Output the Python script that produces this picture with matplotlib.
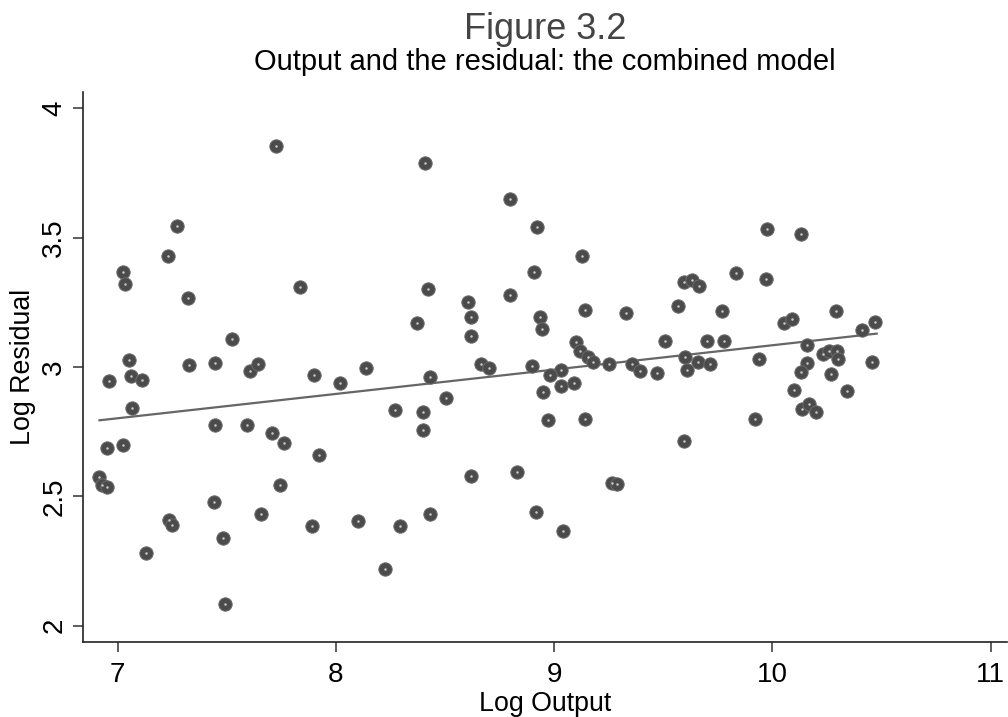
import matplotlib
matplotlib.use("Agg")
import matplotlib.pyplot as plt

plt.rcParams['font.family'] = ['Liberation Sans', 'DejaVu Sans']

# Log Output (x) and Log Residual (y)
log_output = [
    7.728, 7.272, 7.229, 7.023, 7.035, 7.322, 7.837, 7.522, 7.052, 7.328,
    7.446, 7.605, 7.645, 7.900, 6.960, 7.063, 7.110, 7.067, 7.447, 7.595,
    7.707, 7.762, 7.023, 6.951, 7.921, 6.915, 6.929, 6.951, 7.745, 7.444,
    7.237, 7.249, 7.658, 7.890, 7.484, 7.128, 7.493,
    8.410, 8.800, 8.920, 9.130, 8.910, 8.420, 8.800, 8.605, 8.620, 8.935,
    9.140, 9.330, 8.370, 8.620, 8.945, 9.100, 9.120, 9.155, 9.180, 9.250,
    9.355, 9.395, 9.470, 8.665, 8.700, 8.900, 9.030, 8.140, 8.020, 8.430,
    8.980, 9.030, 9.090, 8.950, 8.505, 8.270, 8.400, 8.400, 8.970, 9.140,
    8.620, 8.830, 9.265, 9.290, 8.100, 8.295, 8.430, 8.915, 9.040, 8.225,
    9.975, 10.130, 9.596, 9.634, 9.666, 9.834, 9.973, 9.567, 9.770, 10.290,
    10.055, 10.090, 10.470, 10.410, 9.510, 9.700, 9.780, 10.160, 10.230, 10.260,
    10.295, 10.300, 9.600, 9.660, 9.715, 9.610, 9.940, 10.160, 10.130, 10.457,
    10.270, 10.100, 10.340, 10.136, 10.167, 10.200, 9.920, 9.597,
]
log_residual = [
    3.853, 3.544, 3.429, 3.368, 3.321, 3.267, 3.310, 3.107, 3.027, 3.008,
    3.017, 2.986, 3.012, 2.969, 2.946, 2.966, 2.951, 2.842, 2.776, 2.777,
    2.744, 2.707, 2.697, 2.686, 2.659, 2.574, 2.544, 2.536, 2.544, 2.478,
    2.409, 2.388, 2.433, 2.385, 2.340, 2.280, 2.083,
    3.790, 3.650, 3.540, 3.430, 3.366, 3.300, 3.278, 3.250, 3.194, 3.194,
    3.220, 3.210, 3.170, 3.120, 3.147, 3.095, 3.060, 3.040, 3.020, 3.010,
    3.013, 2.985, 2.976, 3.013, 2.995, 3.005, 2.990, 2.995, 2.940, 2.962,
    2.970, 2.927, 2.940, 2.905, 2.880, 2.833, 2.825, 2.757, 2.794, 2.798,
    2.580, 2.595, 2.552, 2.548, 2.405, 2.385, 2.430, 2.440, 2.366, 2.220,
    3.533, 3.515, 3.327, 3.336, 3.313, 3.365, 3.340, 3.237, 3.218, 3.218,
    3.170, 3.184, 3.174, 3.142, 3.100, 3.100, 3.100, 3.086, 3.050, 3.063,
    3.063, 3.030, 3.037, 3.018, 3.010, 2.990, 3.030, 3.017, 2.980, 3.020,
    2.973, 2.910, 2.907, 2.838, 2.856, 2.826, 2.800, 2.715,
]

# fitted line ends
fit_x = [6.917, 10.478]
fit_y = [2.794, 3.129]

x_ticks = [7, 8, 9, 10, 11]
y_ticks = [2, 2.5, 3, 3.5, 4]
y_tick_labels = ['2', '2.5', '3', '3.5', '4']

fig = plt.figure(figsize=(10.08, 7.17), dpi=100)
ax = fig.add_axes([0.0820, 0.1042, 0.9170, 0.7679])

ax.plot(fit_x, fit_y, color='#666666', lw=1.6, zorder=2)
ax.plot(log_output, log_residual, 'o', ms=9.6, mfc='#4b4b4b',
        mec='#6a6a6a', mew=0.7, ls='none', zorder=3)
# little light specks in the middle of each marker
ax.plot(log_output, log_residual, '.', ms=1.6, color='#c8c8c8',
        ls='none', zorder=4)

ax.set_xlim(6.84, 11.075)
ax.set_ylim(1.936, 4.064)

ax.set_xticks(x_ticks)
ax.set_yticks(y_ticks)
ax.set_yticklabels(y_tick_labels, rotation=90, va='center')

for s in ['top', 'right']:
    ax.spines[s].set_visible(False)
for s in ['left', 'bottom']:
    ax.spines[s].set_linewidth(1.2)
    ax.spines[s].set_color('#222222')

ax.tick_params(axis='both', length=7, width=1.1, color='#333333',
               labelsize=20)
ax.tick_params(axis='x', pad=7)
ax.tick_params(axis='y', pad=4)

ax.set_xlabel('Log Output', fontsize=19.3, labelpad=2)
ax.set_ylabel('Log Residual', fontsize=19.3, labelpad=4)

fig.text(0.5407, 1 - 39 / 717, 'Figure 3.2', fontsize=26, color='#444444',
         ha='center', va='baseline')
fig.text(0.5407, 1 - 70 / 717, 'Output and the residual: the combined model',
         fontsize=21, color='black', ha='center', va='baseline')

fig.savefig('out.png', dpi=100)
